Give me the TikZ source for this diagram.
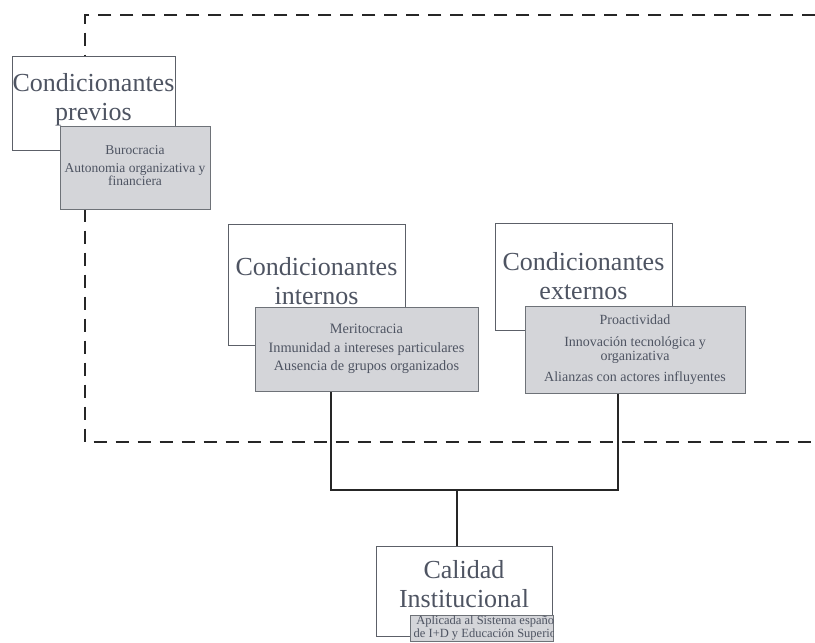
\documentclass[tikz,border=0pt]{standalone}
\usepackage{fontspec}
\setmainfont{Liberation Serif}
\definecolor{inktext}{RGB}{78,84,98}
\definecolor{boxline}{RGB}{92,96,104}
\definecolor{bodyfill}{RGB}{212,213,217}
\definecolor{bodyline}{RGB}{110,114,120}
\begin{document}
\begin{tikzpicture}[x=1pt,y=-1pt,
  headbox/.style={draw=boxline,line width=1pt,fill=white,anchor=north west,inner sep=0pt},
  bodybox/.style={draw=bodyline,line width=1.2pt,fill=bodyfill,anchor=north west,inner sep=0pt},
  headtext/.style={text=inktext,align=center,font=\fontsize{26}{29}\selectfont,inner sep=0pt},
  bodytext/.style={text=inktext,align=center,inner sep=0pt},
  frame/.style={draw=black!85,line width=1.4pt,dash pattern=on 13pt off 9pt},
  link/.style={draw=black!85,line width=1.3pt}]
\useasboundingbox (0,0) rectangle (815,643);

% dashed frame round the conditioning factors (its right side runs along the edge)
\draw[frame] (815.4,15) -- (85,15) -- (85,442) -- (815.4,442) -- cycle;

% previous conditions
\node[headbox,minimum width=163pt,minimum height=94pt] (prevhead) at (12,56) {};
\node[headtext] (prevtitle) at (93.5,100) {Condicionantes\\previos};
\node[bodybox,minimum width=150pt,minimum height=83pt] (prevbody) at (60,126) {};
\node[bodytext,font=\fontsize{13.5}{13}\selectfont] (previtems) at (135,166)
  {Burocracia\\[5pt]Autonomia organizativa y\\financiera};

% internal conditions
\node[headbox,minimum width=177pt,minimum height=121pt] (inthead) at (228,224) {};
\node[headtext] (inttitle) at (316.5,281) {Condicionantes\\internos};
\node[bodybox,minimum width=223pt,minimum height=84pt] (intbody) at (255,307) {};
\node[bodytext,font=\fontsize{14.3}{18.5}\selectfont] (intitems) at (366.5,349)
  {Meritocracia\\Inmunidad a intereses particulares\\Ausencia de grupos organizados};

% external conditions
\node[headbox,minimum width=177pt,minimum height=107pt] (exthead) at (495,223) {};
\node[headtext] (exttitle) at (583.5,276) {Condicionantes\\externos};
\node[bodybox,minimum width=220pt,minimum height=87pt] (extbody) at (525,306) {};
\node[bodytext,font=\fontsize{14}{14}\selectfont] (extitems) at (635,350)
  {Proactividad\\[8pt]Innovación tecnológica y\\organizativa\\[7pt]Alianzas con actores influyentes};

% outcome
\node[headbox,minimum width=176pt,minimum height=90pt] (calhead) at (376,546) {};
\node[headtext] (caltitle) at (464,584) {Calidad\\Institucional};
\node[bodybox,minimum width=143pt,minimum height=26pt] (calbody) at (410,615) {};
\begin{scope}
  \clip (410,615) rectangle (553,641);
  \node[bodytext,font=\fontsize{12.5}{10}\selectfont] (calitems) at (487,628)
    {Aplicada al Sistema español\\de I+D y Educación Superior};
\end{scope}

% connectors
\coordinate (junL) at (331,490);
\coordinate (junR) at (618,490);
\coordinate (junC) at (457,490);
\draw[link] (intbody.south -| junL) -- (junL) -- (junR) -- (extbody.south -| junR);
\draw[link] (junC) -- (calhead.north -| junC);
\end{tikzpicture}
\end{document}
